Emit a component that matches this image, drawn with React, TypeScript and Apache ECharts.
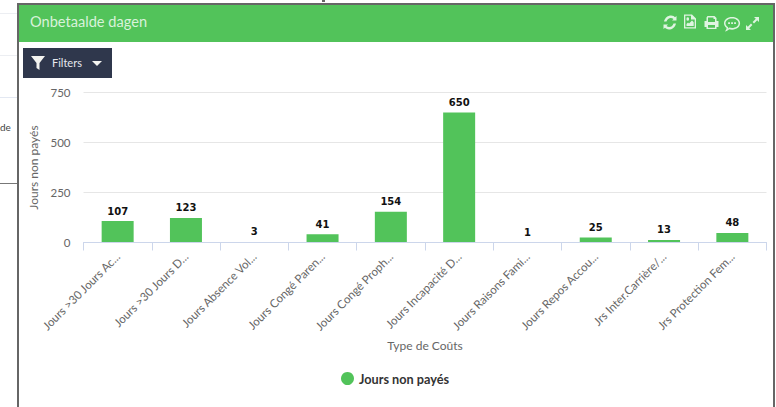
import React, { useEffect, useRef } from "react";
import * as echarts from "echarts";

const categories = [
  "Jours >30 Jours Ac...",
  "Jours >30 Jours D...",
  "Jours Absence Vol...",
  "Jours Congé Paren...",
  "Jours Congé Proph...",
  "Jours Incapacité D...",
  "Jours Raisons Fami...",
  "Jours Repos Accou...",
  "Jrs Inter.Carrière/...",
  "Jrs Protection Fem...",
];
const joursNonPayes = [107, 123, 3, 41, 154, 650, 1, 25, 13, 48];
const yTicks = { min: 0, max: 750, interval: 250 };
const titleText = "Onbetaalde dagen";
const filterText = "Filters";
const seriesName = "Jours non payés";
const xName = "Type de Coûts";

const GREEN = "#52c35a";

echarts.graphic.registerShape("icoFunnel", echarts.graphic.extendPath("M0 0H14L8.5 7V14L5.5 12V7Z", {}));
echarts.graphic.registerShape("icoCaret", echarts.graphic.extendPath("M0 0H10L5 5Z", {}));
echarts.graphic.registerShape(
  "icoRefresh",
  echarts.graphic.extendPath(
    "M1 6C2 2 5 0 8 0C10 0 11.5 1 12 1.7L13.5 .5V5H9L10.5 3.4C8 1.5 4.5 2.5 3.5 6ZM13 8C12 12 9 14 6 14C4 14 2.5 13 2 12.3L.5 13.5V9H5L3.5 10.6C6 12.5 9.5 11.5 10.5 8Z",
    {}
  )
);
echarts.graphic.registerShape(
  "icoImage",
  echarts.graphic.extendPath(
    "M0 0H8L12 4V14H0ZM1.3 1.3V12.7H10.7V5H7V1.3ZM2.5 11.5V9.5L4 8L5 9L8 6L9.7 7.7V11.5ZM2.5 4.5A1.3 1.3 0 1 1 5 4.5A1.3 1.3 0 1 1 2.5 4.5Z",
    {}
  )
);
echarts.graphic.registerShape(
  "icoPrint",
  echarts.graphic.extendPath(
    "M3 0H10L12 2V5H14V11H12V13H2V11H0V5H2V1.5ZM3.5 1.5V6H10.5V3H9V1.5ZM3.5 9V11.7H10.5V9Z",
    {}
  )
);
echarts.graphic.registerShape(
  "icoChat",
  echarts.graphic.extendPath(
    "M7 0C11 0 14 2.2 14 5.5C14 8.8 11 11 7 11C6 11 5.3 10.9 4.5 10.7C3.5 11.7 2 12.5 .8 12.5C1.7 11.5 2.2 10.6 2.3 9.6C.8 8.6 0 7.1 0 5.5C0 2.2 3 0 7 0ZM7 1.3C3.8 1.3 1.3 3.1 1.3 5.5C1.3 6.9 2.2 8.1 3.7 8.9C3.6 9.4 3.5 9.8 3.3 10.2C3.9 9.9 4.3 9.6 4.8 9.2C5.5 9.5 6.2 9.6 7 9.6C10.2 9.6 12.7 7.9 12.7 5.5C12.7 3.1 10.2 1.3 7 1.3ZM3.6 4.5H5.2V6.1H3.6ZM6.2 4.5H7.8V6.1H6.2ZM8.8 4.5H10.4V6.1H8.8Z",
    {}
  )
);
echarts.graphic.registerShape(
  "icoExpand",
  echarts.graphic.extendPath(
    "M8 0H13V5L11.2 3.2L8 6.4L6.6 5L9.8 1.8ZM5 13H0V8L1.8 9.8L5 6.6L6.4 8L3.2 11.2Z",
    {}
  )
);

export default function App() {
  const ref = useRef<HTMLDivElement>(null);
  useEffect(() => {
    document.body.style.margin = "0";
    document.body.style.background = "#fff";
    const chart = echarts.init(ref.current!, undefined, { renderer: "svg" });
    const icon = (type: string, x: number, y: number, s = 1) => ({
      type,
      x,
      y,
      scaleX: s,
      scaleY: s,
      style: { fill: "#dff4e1" },
    });
    chart.setOption({
      animation: false,
      backgroundColor: "#fff",
      grid: { left: 83.5, right: 9.5, top: 92.5, bottom: 164.5, containLabel: false },
      graphic: [
        // page behind the panel
        { type: "rect", shape: { x: 0, y: 13, width: 17, height: 1 }, style: { fill: "#eceef2" }, silent: true },
        { type: "rect", shape: { x: 0, y: 55, width: 17, height: 1 }, style: { fill: "#eceef2" }, silent: true },
        { type: "rect", shape: { x: 0, y: 97, width: 17, height: 1 }, style: { fill: "#e3e8f2" }, silent: true },
        { type: "rect", shape: { x: 0, y: 183, width: 17, height: 1 }, style: { fill: "#777" }, silent: true },
        { type: "text", x: 0, y: 122, style: { text: "de", fill: "#444", font: "10px Lato" }, silent: true },
        { type: "rect", shape: { x: 322, y: 0, width: 3, height: 2 }, style: { fill: "#666" }, silent: true },
        // panel frame
        { type: "rect", shape: { x: 17, y: 3, width: 2, height: 404 }, style: { fill: "#666" }, silent: true },
        { type: "rect", shape: { x: 17, y: 3, width: 758, height: 2 }, style: { fill: "#666" }, silent: true },
        { type: "rect", shape: { x: 773, y: 3, width: 2, height: 404 }, style: { fill: "#666" }, silent: true },
        { type: "rect", shape: { x: 19, y: 5, width: 754, height: 37 }, style: { fill: GREEN }, silent: true },
        { type: "text", x: 30, y: 14, style: { text: titleText, fill: "#d9f2db", font: "14.6px Lato" }, silent: true },
        icon("icoRefresh", 663, 15.5),
        icon("icoImage", 684, 14.5),
        icon("icoPrint", 704.5, 16),
        icon("icoChat", 724, 17, 1.15),
        icon("icoExpand", 746, 17),
        // filter button
        { type: "rect", shape: { x: 23, y: 48, width: 89, height: 30 }, style: { fill: "#2f374c" }, silent: true },
        { type: "icoFunnel", x: 31, y: 56, style: { fill: "#f4f4f0" } },
        { type: "text", x: 52, y: 57, style: { text: filterText, fill: "#e6e8ee", font: "11px Lato" }, silent: true },
        { type: "icoCaret", x: 92, y: 61, style: { fill: "#f4f4f0" } },
      ],
      legend: {
        data: [seriesName],
        top: 367,
        left: 336,
        icon: "circle",
        itemWidth: 13,
        itemHeight: 13,
        itemGap: 6,
        textStyle: { fontFamily: "Lato", fontSize: 12.7, fontWeight: "bold", color: "#333" },
      },
      xAxis: {
        type: "category",
        z: 5,
        data: categories,
        name: xName,
        nameLocation: "middle",
        nameGap: 97,
        nameTextStyle: { fontFamily: "Lato", fontSize: 12, color: "#666", letterSpacing: 0.2 },
        axisLine: { lineStyle: { color: "#ccd6eb" } },
        axisTick: { show: true, length: 8, alignWithLabel: false, lineStyle: { color: "#ccd6eb" } },
        axisLabel: {
          rotate: 45,
          interval: 0,
          margin: 12,
          fontFamily: "Lato",
          fontSize: 11.6,
          color: "#666",
        },
      },
      yAxis: {
        type: "value",
        ...yTicks,
        name: seriesName,
        nameLocation: "middle",
        nameGap: 44,
        nameTextStyle: { fontFamily: "Lato", fontSize: 12, color: "#666" },
        axisLabel: { fontFamily: "Lato", fontSize: 11.5, color: "#666", margin: 13 },
        axisLine: { show: false },
        axisTick: { show: false },
        splitLine: { lineStyle: { color: "#e6e6e6" } },
      },
      series: [
        {
          name: seriesName,
          type: "bar",
          data: joursNonPayes,
          barWidth: 32,
          itemStyle: { color: GREEN },
          label: {
            show: true,
            position: "top",
            distance: 5,
            fontFamily: "DejaVu Sans",
            fontSize: 10,
            fontWeight: "bold",
            color: "#111",
          },
        },
      ],
    });
    return () => chart.dispose();
  }, []);
  return <div ref={ref} style={{ width: 776, height: 407 }} />;
}
